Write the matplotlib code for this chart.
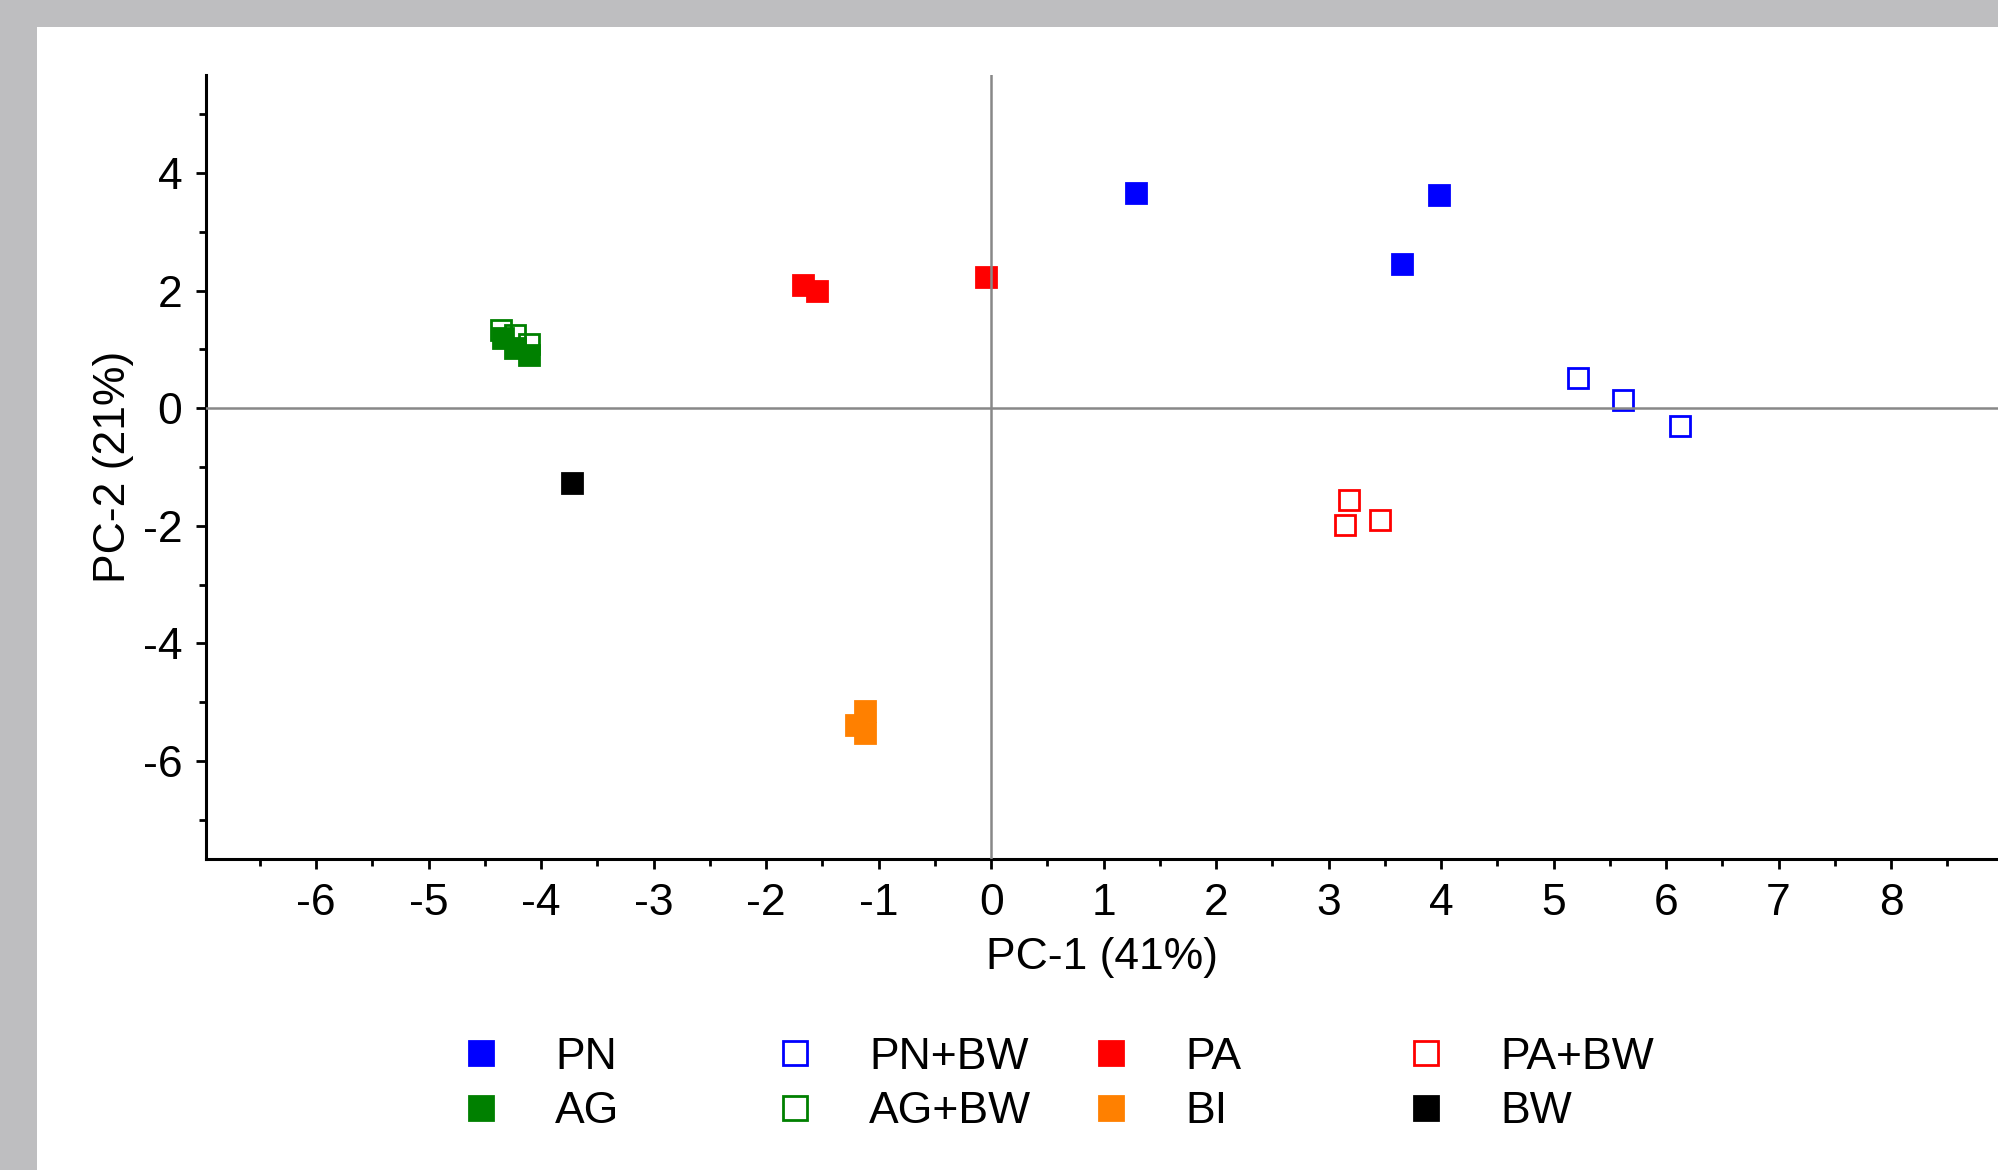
import matplotlib
matplotlib.use("Agg")
import matplotlib.pyplot as plt
from matplotlib.patches import Rectangle

plt.rcParams['font.family'] = ['Liberation Sans', 'DejaVu Sans']
plt.rcParams['axes.unicode_minus'] = False

# scores (PC-1, PC-2)
pn_x = [1.29, 3.98, 3.65]
pn_y = [3.67, 3.63, 2.46]
pnbw_x = [5.22, 5.62, 6.12]
pnbw_y = [0.51, 0.14, -0.31]
pa_x = [-1.67, -1.55, -0.05]
pa_y = [2.10, 2.00, 2.23]
pabw_x = [3.18, 3.15, 3.46]
pabw_y = [-1.57, -1.98, -1.90]
ag_x = [-4.34, -4.23, -4.11]
ag_y = [1.19, 1.02, 0.91]
agbw_x = [-4.36, -4.23, -4.11]
agbw_y = [1.33, 1.24, 1.09]
bi_x = [-1.12, -1.12, -1.20]
bi_y = [-5.16, -5.53, -5.39]
bw_x = [-3.73]
bw_y = [-1.27]

groups = [
    # label, x, y, colour, filled
    ("PN", pn_x, pn_y, "#0000ff", True),
    ("PN+BW", pnbw_x, pnbw_y, "#0000ff", False),
    ("PA", pa_x, pa_y, "#ff0000", True),
    ("PA+BW", pabw_x, pabw_y, "#ff0000", False),
    ("AG+BW", agbw_x, agbw_y, "#008000", False),
    ("AG", ag_x, ag_y, "#008000", True),
    ("BI", bi_x, bi_y, "#ff8000", True),
    ("BW", bw_x, bw_y, "#000000", True),
]
legend_cols = [["PN", "AG"], ["PN+BW", "AG+BW"], ["PA", "BI"], ["PA+BW", "BW"]]

W, H = 1999, 1170
fig = plt.figure(figsize=(W / 100, H / 100), dpi=100)
fig.patch.set_facecolor("#bebec0")
fig.patches.append(Rectangle((37 / W, 0), 1 - 37 / W, 1 - 27 / H,
                             transform=fig.transFigure, facecolor="white",
                             edgecolor="none", zorder=-5))

ax = fig.add_axes([206 / W, 1 - 859 / H, 1 - 206 / W, (859 - 75) / H])
ax.set_facecolor("none")
ax.set_zorder(2)

handles = {}
for label, xs, ys, col, filled in groups:
    h, = ax.plot(xs, ys, ls="none", marker="s", ms=14, mew=2,
                 mec=col, mfc=col if filled else "none", zorder=2)
    handles[label] = h

ax.axhline(0, color="#888888", lw=1.8, zorder=3)
ax.axvline(0, color="#888888", lw=1.8, zorder=3)

ax.set_xlim(-6.98, 8.96)
ax.set_ylim(-7.67, 5.67)
ax.set_xticks(range(-6, 9))
ax.set_xticks([v + 0.5 for v in range(-7, 9)], minor=True)
ax.set_yticks([-6, -4, -2, 0, 2, 4])
ax.set_yticks([-7, -5, -3, -1, 1, 3, 5], minor=True)

for s in ["top", "right"]:
    ax.spines[s].set_visible(False)
for s in ["left", "bottom"]:
    ax.spines[s].set_linewidth(2.2)

ax.tick_params(which="major", direction="out", length=7, width=2,
               labelsize=32)
ax.tick_params(which="minor", direction="out", length=5, width=2)
ax.tick_params(axis="x", which="major", pad=10)
ax.tick_params(axis="y", which="major", pad=10)

ax.set_xlabel("PC-1 (41%)", fontsize=32, labelpad=10)
ax.set_ylabel("PC-2 (21%)", fontsize=32, labelpad=6)

col_x = [461, 775, 1091, 1406]
for cx, labels in zip(col_x, legend_cols):
    fig.legend([handles[l] for l in labels], labels, loc="center left",
               bbox_to_anchor=(cx / W, 1 - 1084.5 / H), frameon=False,
               fontsize=32, markerscale=1.27, handlelength=0.9,
               handletextpad=1.22, labelspacing=0.3, borderpad=0,
               borderaxespad=0)

fig.savefig("out.png", dpi=100, facecolor=fig.get_facecolor())
